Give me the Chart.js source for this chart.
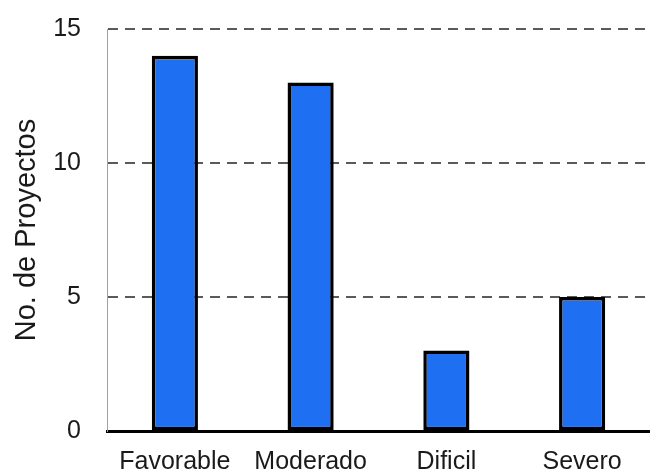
<!DOCTYPE html>
<html>
<head>
<meta charset="utf-8">
<script src="https://cdn.jsdelivr.net/npm/chart.js@4"></script>
<style>
  html, body { margin: 0; padding: 0; background: #fff; }
  #wrap { width: 650px; height: 474px; }
</style>
</head>
<body>
<div id="wrap"><canvas id="c" width="650" height="474"></canvas></div>
<script>
// Number of projects per difficulty class
const categories = ['Favorable', 'Moderado', 'Dificil', 'Severo'];
const projectCounts = [14, 13, 3, 5];
const yTicks = [0, 5, 10, 15];

const FONT = "'Liberation Sans', Arial, sans-serif";

new Chart(document.getElementById('c'), {
  type: 'bar',
  data: {
    labels: categories,
    datasets: [{
      data: projectCounts,
      backgroundColor: '#1f6ff2',
      borderColor: '#000',
      borderWidth: 3.5,
      borderSkipped: false,
      barPercentage: 0.34,
      categoryPercentage: 1.0
    }]
  },
  options: {
    responsive: false,
    animation: false,
    layout: { autoPadding: false, padding: { left: 4, top: 29, right: 0, bottom: 0 } },
    plugins: { legend: { display: false }, tooltip: { enabled: false } },
    scales: {
      x: {
        grid: { display: true, drawOnChartArea: false, drawTicks: false },
        border: { color: '#000', width: 3 },
        ticks: { color: '#1a1a1a', font: { family: FONT, size: 25 }, padding: 16, maxRotation: 0 },
        afterFit: (s) => {
          s.height = 43;
          s.paddingLeft = 0;
          s.paddingRight = 0;
        }
      },
      y: {
        min: 0,
        max: 15,
        afterBuildTicks: (s) => { s.ticks = yTicks.map(v => ({ value: v })); },
        grid: {
          drawTicks: false,
          color: (ctx) => ctx.tick && ctx.tick.value === 0 ? 'rgba(0,0,0,0)' : '#5a5a5a',
          lineWidth: 2
        },
        border: { color: '#a0a0a0', width: 1, dash: [10, 7] },
        ticks: { color: '#1a1a1a', font: { family: FONT, size: 25 }, padding: 26 },
        title: {
          display: true,
          text: 'No. de Proyectos',
          color: '#1a1a1a',
          font: { family: FONT, size: 29 },
          padding: { top: 6, bottom: 0 }
        },
        afterFit: (s) => {
          // fixed axis column; tick padding should only space labels horizontally
          s.width = 103;
          s.paddingTop = 0;
          s.paddingBottom = 0;
        }
      }
    }
  }
});
</script>
</body>
</html>
